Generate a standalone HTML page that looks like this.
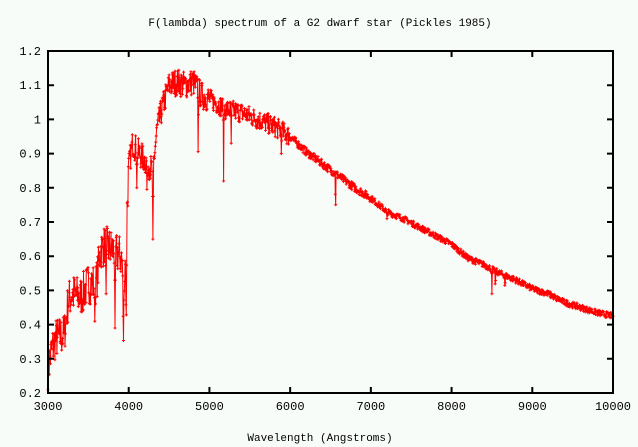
<!DOCTYPE html>
<html><head><meta charset="utf-8"><style>
html,body{margin:0;padding:0;background:#f8fcf8;}
svg{display:block}
text{font-family:"Liberation Mono",monospace;fill:#000}
</style></head><body>
<svg id="s" width="638" height="447" viewBox="0 0 638 447" xmlns="http://www.w3.org/2000/svg">
<rect width="638" height="447" fill="#f8fcf8"/>
<text x="320" y="26" font-size="11" text-anchor="middle">F(lambda) spectrum of a G2 dwarf star (Pickles 1985)</text>
<text x="320" y="441" font-size="11" text-anchor="middle">Wavelength (Angstroms)</text>
<g id="data"></g>
<g id="ax" stroke="#000" stroke-width="2" fill="none"></g>
<g id="lab" font-size="12"></g>
</svg>
<script>
var L=48,R=613,T=51,B=393;
function X(w){return L+(w-3000)/7000*(R-L);}
function Y(f){return B-(f-0.2)*(B-T);}
var ax=document.getElementById('ax'),lab=document.getElementById('lab'),ns='http://www.w3.org/2000/svg';
var d='M'+L+' '+T+'H'+R+'V'+B+'H'+L+'Z';
for(var f=0.2;f<1.201;f+=0.1){var y=Y(f);d+='M'+L+' '+y+'h6M'+R+' '+y+'h-6';
 var t=document.createElementNS(ns,'text');t.setAttribute('x',L-7);t.setAttribute('y',y+4);t.setAttribute('text-anchor','end');
 t.textContent=(Math.round(f*10)/10).toString();if(Math.abs(f-1)<0.01)t.textContent='1';lab.appendChild(t);}
for(var w=3000;w<=10000;w+=1000){var x=X(w);d+='M'+x+' '+B+'v-6M'+x+' '+T+'v6';
 var t=document.createElementNS(ns,'text');t.setAttribute('x',x);t.setAttribute('y',B+17);t.setAttribute('text-anchor','middle');t.textContent=w;lab.appendChild(t);}
var p=document.createElementNS(ns,'path');p.setAttribute('d',d);ax.appendChild(p);
var env=[[3000,.27],[3050,.33],[3100,.36],[3200,.37],[3250,.47],[3300,.49],[3400,.48],[3500,.52],[3600,.52],[3650,.62],[3700,.63],[3800,.62],[3900,.6],[3950,.55],[4000,.86],[4050,.93],[4100,.91],[4200,.88],[4300,.85],[4350,.97],[4400,1.02],[4500,1.1],[4600,1.11],[4700,1.1],[4800,1.11],[4900,1.07],[5000,1.06],[5200,1.03],[5400,1.02],[5600,1.0],[5800,.98],[6000,.95],[6200,.905],[6400,.87],[6600,.835],[6800,.8],[7000,.77],[7200,.73],[7400,.71],[7600,.685],[7800,.66],[8000,.635],[8200,.595],[8400,.575],[8600,.55],[8800,.53],[9000,.505],[9200,.49],[9400,.465],[9600,.45],[9800,.435],[10000,.425]];
var lines=[[3934,.33,10],[3968,.37,10],[4300,.65,8],[4861,.87,6],[5175,.82,6],[6563,.69,5],[8500,.49,6],[8542,.5,6],[8662,.5,6],[3830,.39,8],[3580,.41,8],[3430,.44,8],[3720,.49,6],[4100,.8,8],[4226,.78,6],[5270,.93,6],[5890,.9,6],[7200,.71,6],[9300,.47,8]];
function envAt(w){for(var i=1;i<env.length;i++){if(w<=env[i][0]){var a=env[i-1],b=env[i];return a[1]+(b[1]-a[1])*(w-a[0])/(b[0]-a[0]);}}return .425;}
var seed=7;function rnd(){seed=(seed*16807)%2147483647;return seed/2147483647;}
var pts=[];
for(var w=3000;w<=10000;w+=5){
 var f=envAt(w);var amp=w<4000?0.06:(w<5000?0.04:(w<6000?0.03:(w<7000?0.012:0.009)));
 f+=(rnd()-0.5)*2*amp;
 for(var k=0;k<lines.length;k++){var l=lines[k];var dd=Math.abs(w-l[0]);if(dd<l[2]){var m=1-dd/l[2];var base=envAt(l[0]);f=Math.min(f,base-(base-l[1])*m);}}
 pts.push([X(w),Y(f)]);}
var line='M'+pts.map(function(q){return q[0].toFixed(1)+' '+q[1].toFixed(1);}).join('L');
var cr='';pts.forEach(function(q){cr+='M'+(q[0]-1.5).toFixed(1)+' '+q[1].toFixed(1)+'h3M'+q[0].toFixed(1)+' '+(q[1]-1.5).toFixed(1)+'v3';});
var g=document.getElementById('data');
var p1=document.createElementNS(ns,'path');p1.setAttribute('d',line);p1.setAttribute('stroke','#f00');p1.setAttribute('fill','none');p1.setAttribute('stroke-width','1');g.appendChild(p1);
var p2=document.createElementNS(ns,'path');p2.setAttribute('d',cr);p2.setAttribute('stroke','#f00');p2.setAttribute('fill','none');p2.setAttribute('stroke-width','1');g.appendChild(p2);
</script>
</body></html>
